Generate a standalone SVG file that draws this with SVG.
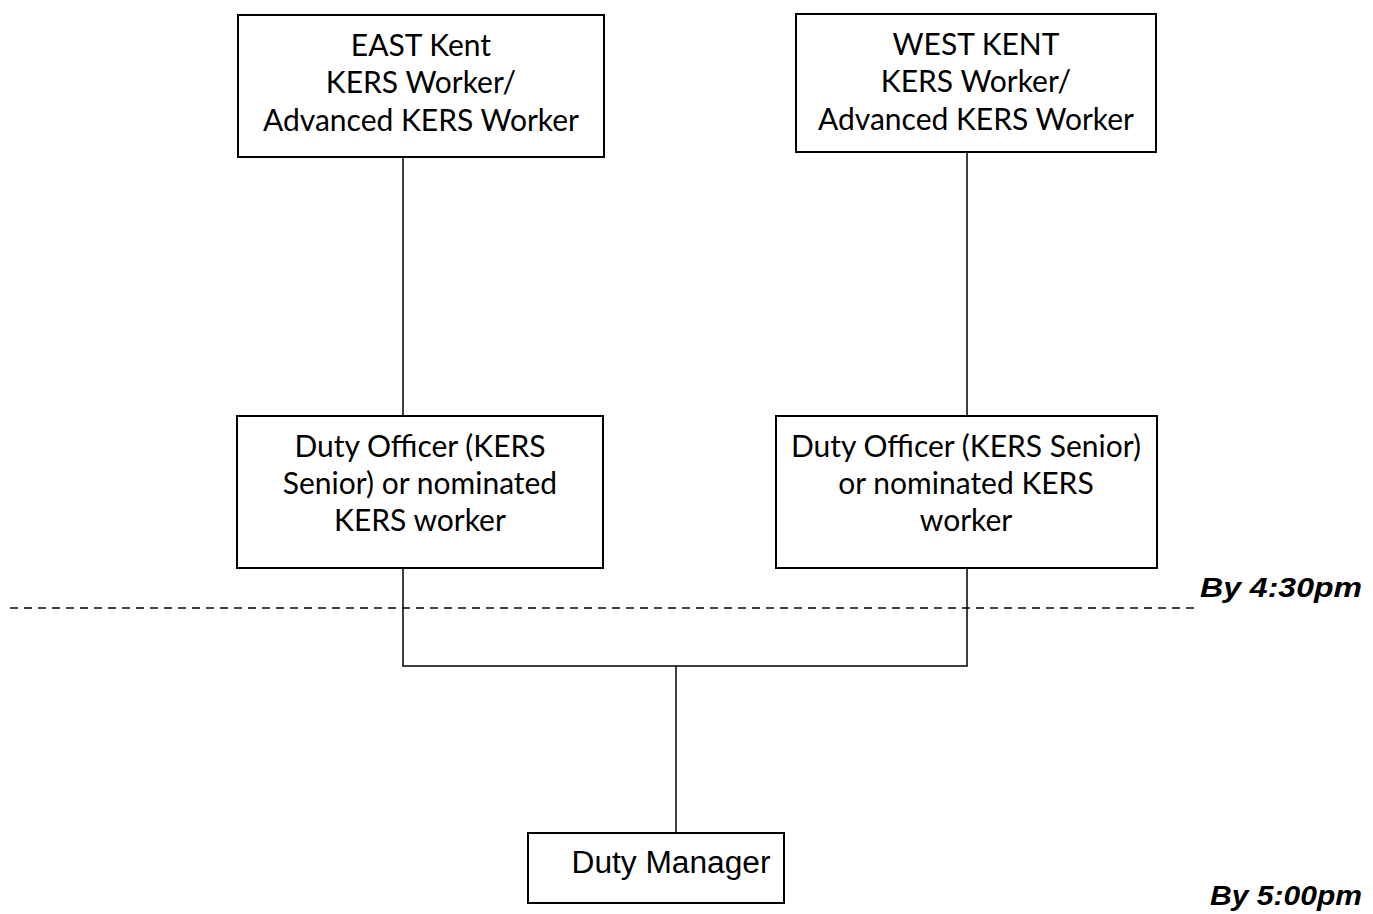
<svg xmlns="http://www.w3.org/2000/svg" width="1373" height="914" viewBox="0 0 1373 914">
<style>
.box{fill:#fff;stroke:#000;stroke-width:2}
.t{font-family:Lato,"Open Sans",sans-serif;font-size:30px;fill:#000;text-anchor:middle}
.a{font-family:"Liberation Sans",Arial,sans-serif;font-size:31px;fill:#000;text-anchor:middle}
.lbl{font-family:"Liberation Sans",Arial,sans-serif;font-size:27px;font-weight:bold;font-style:italic;fill:#000}
.c{stroke:#000;stroke-width:1.5;fill:none}
</style>
<rect width="1373" height="914" fill="#fff"/>
<g id="connectors">
<line class="c" x1="403" y1="157" x2="403" y2="416"/>
<line class="c" x1="967" y1="152" x2="967" y2="416"/>
<polyline class="c" points="403,568 403,666 967,666 967,568"/>
<line class="c" x1="676" y1="666" x2="676" y2="833"/>
<line class="c" x1="10" y1="608" x2="1195" y2="608" stroke-dasharray="8,6"/>
</g>
<g id="east">
<rect class="box" x="238" y="15" width="366" height="142"/>
<text class="t" x="421" y="56">EAST Kent</text>
<text class="t" x="421" y="93">KERS Worker/</text>
<text class="t" x="421" y="131">Advanced KERS Worker</text>
</g>
<g id="west">
<rect class="box" x="796" y="14" width="360" height="138"/>
<text class="t" x="976" y="55">WEST KENT</text>
<text class="t" x="976" y="92">KERS Worker/</text>
<text class="t" x="976" y="130">Advanced KERS Worker</text>
</g>
<g id="east-duty">
<rect class="box" x="237" y="416" width="366" height="152"/>
<text class="t" x="420" y="457">Duty Officer (KERS</text>
<text class="t" x="420" y="494">Senior) or nominated</text>
<text class="t" x="420" y="531">KERS worker</text>
</g>
<g id="west-duty">
<rect class="box" x="776" y="416" width="381" height="152"/>
<text class="t" x="966" y="457">Duty Officer (KERS Senior)</text>
<text class="t" x="966" y="494">or nominated KERS</text>
<text class="t" x="966" y="531">worker</text>
</g>
<g id="manager">
<rect class="box" x="528" y="833" width="256" height="70"/>
<text class="a" x="671" y="873" textLength="199" lengthAdjust="spacingAndGlyphs">Duty Manager</text>
</g>
<g id="labels">
<text class="lbl" x="1200" y="597" textLength="162" lengthAdjust="spacingAndGlyphs">By 4:30pm</text>
<text class="lbl" x="1210" y="905" textLength="152" lengthAdjust="spacingAndGlyphs">By 5:00pm</text>
</g>
</svg>
